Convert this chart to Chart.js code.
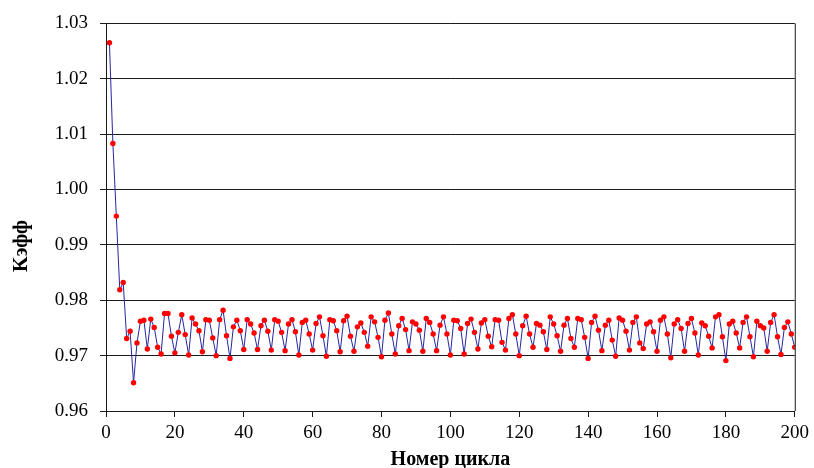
<!DOCTYPE html>
<html>
<head>
<meta charset="utf-8">
<script src="https://cdn.jsdelivr.net/npm/chart.js@4"></script>
<style>
  html, body { margin: 0; padding: 0; background: #ffffff; }
  #wrap { width: 814px; height: 468px; }
</style>
</head>
<body>
<div id="wrap"><canvas id="keffChart" width="814" height="468"></canvas></div>
<script>
// Keff by cycle number, cycles 1..200
const keff = [
    1.0265, 1.0083, 0.9952, 0.9819, 0.9832, 0.9731, 0.9744, 0.9651, 0.9723, 0.9762,
    0.9764, 0.9712, 0.9766, 0.9751, 0.9715, 0.9703, 0.9776, 0.9776, 0.9735, 0.9705,
    0.9742, 0.9774, 0.9738, 0.9701, 0.9768, 0.9757, 0.9745, 0.9707, 0.9765, 0.9764,
    0.9732, 0.9700, 0.9765, 0.9782, 0.9736, 0.9695, 0.9752, 0.9764, 0.9745, 0.9711,
    0.9765, 0.9757, 0.9741, 0.9711, 0.9754, 0.9764, 0.9744, 0.9710, 0.9765, 0.9762,
    0.9742, 0.9709, 0.9757, 0.9765, 0.9743, 0.9701, 0.9760, 0.9764, 0.9739, 0.9710,
    0.9758, 0.9770, 0.9736, 0.9699, 0.9765, 0.9763, 0.9745, 0.9707, 0.9763, 0.9771,
    0.9735, 0.9708, 0.9752, 0.9759, 0.9742, 0.9717, 0.9770, 0.9761, 0.9733, 0.9698,
    0.9764, 0.9777, 0.9739, 0.9703, 0.9754, 0.9767, 0.9747, 0.9709, 0.9761, 0.9757,
    0.9746, 0.9708, 0.9767, 0.9760, 0.9739, 0.9709, 0.9755, 0.9770, 0.9739, 0.9701,
    0.9764, 0.9763, 0.9749, 0.9703, 0.9758, 0.9766, 0.9742, 0.9712, 0.9759, 0.9765,
    0.9735, 0.9716, 0.9765, 0.9764, 0.9724, 0.9710, 0.9767, 0.9774, 0.9739, 0.9700,
    0.9754, 0.9771, 0.9739, 0.9715, 0.9758, 0.9755, 0.9743, 0.9711, 0.9770, 0.9757,
    0.9736, 0.9708, 0.9755, 0.9767, 0.9731, 0.9715, 0.9767, 0.9765, 0.9733, 0.9695,
    0.9760, 0.9771, 0.9746, 0.9709, 0.9755, 0.9764, 0.9728, 0.9699, 0.9768, 0.9764,
    0.9744, 0.9710, 0.9760, 0.9770, 0.9723, 0.9713, 0.9757, 0.9761, 0.9743, 0.9708,
    0.9764, 0.9770, 0.9739, 0.9696, 0.9757, 0.9765, 0.9749, 0.9708, 0.9758, 0.9767,
    0.9741, 0.9701, 0.9759, 0.9754, 0.9735, 0.9714, 0.9770, 0.9774, 0.9734, 0.9691,
    0.9757, 0.9762, 0.9741, 0.9714, 0.9760, 0.9770, 0.9734, 0.9698, 0.9762, 0.9754,
    0.9750, 0.9708, 0.9760, 0.9774, 0.9734, 0.9702, 0.9751, 0.9761, 0.9739, 0.9715
];
const cycles = keff.map((_, i) => i + 1);

const xTitle = 'Номер цикла';
const yTitle = 'Kэфф';
const xMin = 0, xMax = 200, xStep = 20;
const yMin = 0.96, yMax = 1.03, yStep = 0.01;

const lineColor = '#26269e';
const pointColor = '#ff0000';
const gridColor = '#1a1a1a';
const textColor = '#000000';
const serif = '"Liberation Serif", "Times New Roman", serif';

Chart.defaults.font.family = serif;
Chart.defaults.color = textColor;

// frame on the right side + rotated y title (not centred on the axis in the original)
const framePlugin = {
    id: 'frame',
    afterDraw(chart) {
        const {ctx, chartArea: a} = chart;
        ctx.save();
        ctx.strokeStyle = gridColor;
        ctx.lineWidth = 1;
        ctx.beginPath();
        ctx.moveTo(a.right + 0.5, a.top);
        ctx.lineTo(a.right + 0.5, a.bottom);
        ctx.stroke();

        ctx.translate(22, 246);
        ctx.rotate(-Math.PI / 2);
        ctx.fillStyle = textColor;
        ctx.font = 'bold 20px ' + serif;
        ctx.textAlign = 'center';
        ctx.textBaseline = 'middle';
        ctx.fillText(yTitle, 0, 0);
        ctx.restore();
    }
};

new Chart(document.getElementById('keffChart'), {
    type: 'line',
    data: {
        datasets: [{
            data: cycles.map((c, i) => ({x: c, y: keff[i]})),
            borderColor: lineColor,
            borderWidth: 1,
            backgroundColor: pointColor,
            pointBackgroundColor: pointColor,
            pointBorderColor: pointColor,
            pointBorderWidth: 0,
            pointRadius: 2.7,
            tension: 0,
            fill: false
        }]
    },
    options: {
        responsive: false,
        animation: false,
        layout: {padding: {left: 0, top: 19, right: 16, bottom: 0}},
        plugins: {
            legend: {display: false},
            tooltip: {enabled: false}
        },
        scales: {
            x: {
                type: 'linear',
                min: xMin,
                max: xMax,
                afterFit: (s) => { s.height = 57; },
                ticks: {
                    stepSize: xStep,
                    color: textColor,
                    padding: 5,
                    maxRotation: 0,
                    font: {family: serif, size: 19}
                },
                grid: {
                    drawOnChartArea: false,
                    drawTicks: true,
                    tickLength: 6,
                    color: gridColor
                },
                border: {color: gridColor, width: 1},
                title: {
                    display: true,
                    text: xTitle,
                    color: textColor,
                    font: {family: serif, size: 20, weight: 'bold', lineHeight: 0.85},
                    padding: {top: 0, bottom: 0}
                }
            },
            y: {
                min: yMin,
                max: yMax,
                afterFit: (s) => { s.width = 106; },
                ticks: {
                    stepSize: yStep,
                    color: textColor,
                    padding: 12,
                    font: {family: serif, size: 19},
                    callback: (v) => Number(v).toFixed(2)
                },
                grid: {
                    drawTicks: true,
                    tickLength: 6,
                    color: gridColor,
                    lineWidth: 1
                },
                border: {color: gridColor, width: 1}
            }
        }
    },
    plugins: [framePlugin]
});
</script>
</body>
</html>
